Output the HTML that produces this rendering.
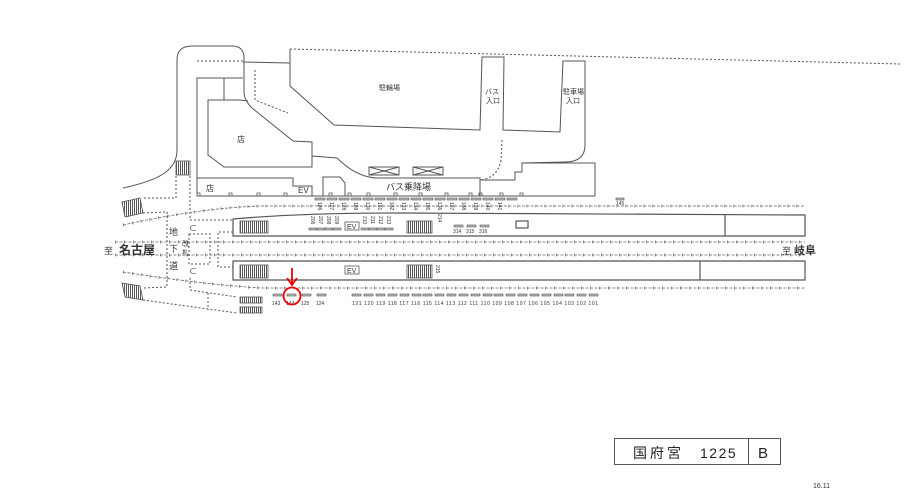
<!DOCTYPE html>
<html><head><meta charset="utf-8"><style>
html,body{margin:0;padding:0;background:#fff;}
svg{display:block;font-family:"Liberation Sans","Noto Sans CJK JP",sans-serif;}
</style></head><body>
<svg width="919" height="491" viewBox="0 0 919 491" xmlns="http://www.w3.org/2000/svg">
<defs>
<pattern id="hatch" width="2" height="4" patternUnits="userSpaceOnUse"><rect width="1" height="4" fill="#555"/></pattern>
</defs>
<g fill="none" stroke="#555" stroke-width="1">
<path d="M123,188 C160,180 177,170 177,150 L177,60 Q177,46 192,46 L232,46 Q244,46 244,58 L244,92 Q244,100 252,108 L293,141 L312,142 L312,167 L224,167 L208,155 L208,100 L240,100 L248,101"/>
<path d="M197,196 L197,78 L243,78 M224,78 L224,100 M243,62 L290,63 M290,49 L290,86 L334,125 L480,130 L482,57 L504,57 L503,130 L560,132 L563,61 L585,61 L585,145 Q585,162 565,162 L522,163 L522,172 L515,172 L515,180 L480,180 M522,163 L595,163 L595,196 L197,196"/>
<path d="M312,156 L337,158 Q355,176 375,178 L480,178 L480,196"/>
<path d="M197,178 L293,178 L293,186 L312,186 L312,196 M323,196 L323,177 L340,177 L345,183 L345,196"/>
<rect x="369" y="167" width="30" height="8"/><path d="M369,167 L399,175 M399,167 L369,175"/>
<rect x="413" y="167" width="30" height="8"/><path d="M413,167 L443,175 M443,167 L413,175"/>
</g>
<g fill="none" stroke="#555" stroke-width="1" stroke-dasharray="2,2">
<path d="M197,61 L243,61 M290,49 L900,64"/>
<path d="M255,70 L255,100 L288,113"/>
<path d="M502,140 L501,160 Q498,178 480,180"/>
<path d="M176,176 L176,198 L143,198 M190,176 L190,220 L233,220"/>
<path d="M143,213 L167,212 L167,287 L143,288"/>
<path d="M143,300 L237,313 M190,278 L190,290 L237,297 M208,293 L208,310"/>
<rect x="189" y="234" width="21" height="30"/>
<path d="M233,232 L218,232 L218,267 L233,267"/>
</g>
<g fill="none" stroke="#666" stroke-width="0.8" stroke-dasharray="3,1.5">
<path d="M123,225 Q200,208 260,206 L805,206"/>
<path d="M115,242 L805,242 M115,255 L805,255"/>
<path d="M123,272 Q200,284 260,288 L805,288"/>
</g>
<g fill="none" stroke="#666" stroke-width="3" stroke-dasharray="0.7,8.3">
<path d="M123,225 Q200,208 260,206 L805,206"/>
<path d="M115,242 L805,242 M115,255 L805,255"/>
<path d="M123,272 Q200,284 260,288 L805,288"/>
</g>
<g fill="none" stroke="#555" stroke-width="1.2">
<path d="M233,219 Q300,213 400,213 L805,215 L805,236 L233,236 Z M725,214 L725,236"/>
<path d="M233,261 L805,261 L805,280 L233,280 Z M700,261 L700,280"/>
<rect x="516" y="221" width="12" height="7"/>
</g>
<g stroke="#555" stroke-width="0.8">
<rect x="240" y="221" width="28" height="12" fill="url(#hatch)"/>
<rect x="407" y="221" width="25" height="12" fill="url(#hatch)"/>
<rect x="240" y="265" width="28" height="13" fill="url(#hatch)"/>
<rect x="407" y="265" width="25" height="13" fill="url(#hatch)"/>
<rect x="176" y="161" width="14" height="14" fill="url(#hatch)"/>
<polygon points="122,202 140,198 143,213 125,217" fill="url(#hatch)"/>
<polygon points="122,283 140,286 143,300 125,297" fill="url(#hatch)"/>
<rect x="240" y="297" width="22" height="6" fill="url(#hatch)"/>
<rect x="240" y="307" width="22" height="6" fill="url(#hatch)"/>
<rect x="345" y="222" width="14" height="8" fill="none"/>
<rect x="345" y="266" width="14" height="8" fill="none"/>
</g>
<g font-size="8" fill="#333">
<text x="347" y="229" font-size="7">EV</text><text x="347" y="273" font-size="7">EV</text>
<text x="237" y="142" font-size="8">店</text>
<text x="206" y="191">店</text>
<text x="298" y="193">EV</text>
<text x="386" y="190" font-size="9">バス乗降場</text>
<text x="379" y="90" font-size="7">駐輪場</text>
<text x="485" y="94" font-size="7">バス</text><text x="486" y="103" font-size="7">入口</text>
<text x="563" y="94" font-size="7">駐車場</text><text x="566" y="103" font-size="7">入口</text>
<text x="169" y="235" font-size="9">地</text><text x="169" y="252" font-size="9">下</text><text x="169" y="269" font-size="9">道</text>
<text x="182" y="246" font-size="7">改</text><text x="182" y="255" font-size="7">札</text>
<text x="189" y="231">⊂</text><text x="189" y="274">⊂</text>
<text x="104" y="254" font-size="9">至</text><text x="119" y="254" font-size="12" font-weight="bold">名古屋</text>
<text x="782" y="254" font-size="9">至</text><text x="794" y="254" font-size="11" font-weight="bold">岐阜</text>
</g>
<g fill="none" stroke="#555" stroke-width="0.8">
<path d="M197,196v-3h3v3 M229,196v-3h3v3 M257,196v-3h3v3 M284,196v-3h3v3 M329,196v-3h3v3 M348,196v-3h3v3 M367,196v-3h3v3 M394,196v-3h3v3 M419,196v-3h3v3 M445,196v-3h3v3 M469,196v-3h3v3 M479,196v-3h3v3 M500,196v-3h3v3 M520,196v-3h3v3"/>
</g>
<g fill="#bbb" stroke="#555" stroke-width="0.6">
<rect x="315" y="198" width="10" height="2"/><rect x="327" y="198" width="10" height="2"/><rect x="339" y="198" width="10" height="2"/><rect x="351" y="198" width="10" height="2"/><rect x="363" y="198" width="10" height="2"/><rect x="375" y="198" width="10" height="2"/><rect x="387" y="198" width="10" height="2"/><rect x="399" y="198" width="10" height="2"/><rect x="411" y="198" width="10" height="2"/><rect x="423" y="198" width="10" height="2"/><rect x="435" y="198" width="10" height="2"/><rect x="447" y="198" width="10" height="2"/><rect x="459" y="198" width="10" height="2"/><rect x="471" y="198" width="10" height="2"/><rect x="483" y="198" width="10" height="2"/><rect x="495" y="198" width="10" height="2"/><rect x="507" y="198" width="10" height="2"/>
<rect x="616" y="198" width="8" height="2"/>
<rect x="309" y="228" width="8" height="2"/><rect x="317" y="228" width="8" height="2"/><rect x="325" y="228" width="8" height="2"/><rect x="333" y="228" width="8" height="2"/>
<rect x="361" y="228" width="8" height="2"/><rect x="369" y="228" width="8" height="2"/><rect x="377" y="228" width="8" height="2"/><rect x="385" y="228" width="8" height="2"/>
<rect x="454" y="225" width="9" height="2"/><rect x="467" y="225" width="9" height="2"/><rect x="480" y="225" width="9" height="2"/>
<rect x="273" y="294" width="9" height="2"/><rect x="287" y="294" width="9" height="2"/><rect x="302" y="294" width="9" height="2"/><rect x="317" y="294" width="9" height="2"/>
</g>
<g font-size="5" fill="#333" font-family="Liberation Sans">
<g transform="rotate(90)">
<text x="202" y="-318">126</text><text x="202" y="-330">127</text><text x="202" y="-342">128</text><text x="202" y="-354">129</text><text x="202" y="-366">130</text><text x="202" y="-378">131</text><text x="202" y="-390">132</text><text x="202" y="-402">133</text><text x="202" y="-414">134</text><text x="202" y="-426">135</text><text x="202" y="-438">136</text><text x="202" y="-450">137</text><text x="202" y="-462">138</text><text x="202" y="-474">139</text><text x="202" y="-486">140</text><text x="202" y="-498">141</text>
<text x="216" y="-311">206</text><text x="216" y="-319">207</text><text x="216" y="-327">208</text><text x="216" y="-335">209</text>
<text x="216" y="-363">210</text><text x="216" y="-371">211</text><text x="216" y="-379">212</text><text x="216" y="-387">213</text>
<text x="214" y="-438">214</text><text x="265" y="-436">215</text>
</g>
<text x="616" y="205">145</text>
<text x="453" y="233">314</text><text x="466" y="233">315</text><text x="479" y="233">316</text>
<text x="272" y="305">143</text><text x="286" y="305">144</text><text x="301" y="305">125</text><text x="316" y="305">124</text>
<text x="352" y="305" textLength="246" lengthAdjust="spacing">121 120 119 118 117 116 115 114 113 112 111 110 109 108 107 106 105 104 103 102 101</text>
</g>
<g fill="#bbb" stroke="#555" stroke-width="0.6">
<rect x="352" y="294" width="9" height="2"/><rect x="364" y="294" width="9" height="2"/><rect x="376" y="294" width="9" height="2"/><rect x="388" y="294" width="9" height="2"/><rect x="400" y="294" width="9" height="2"/><rect x="412" y="294" width="9" height="2"/><rect x="423" y="294" width="9" height="2"/><rect x="435" y="294" width="9" height="2"/><rect x="447" y="294" width="9" height="2"/><rect x="459" y="294" width="9" height="2"/><rect x="471" y="294" width="9" height="2"/><rect x="483" y="294" width="9" height="2"/><rect x="494" y="294" width="9" height="2"/><rect x="506" y="294" width="9" height="2"/><rect x="518" y="294" width="9" height="2"/><rect x="530" y="294" width="9" height="2"/><rect x="542" y="294" width="9" height="2"/><rect x="554" y="294" width="9" height="2"/><rect x="565" y="294" width="9" height="2"/><rect x="577" y="294" width="9" height="2"/><rect x="589" y="294" width="9" height="2"/>
</g>
<g stroke="#e00" stroke-width="1.8" fill="none">
<circle cx="292" cy="296" r="8.5"/>
<path d="M292,268 L292,284 M287,278 L292,285 L297,278"/>
</g>
<rect x="614.5" y="438.5" width="166" height="26" fill="none" stroke="#555"/>
<line x1="748.5" y1="438" x2="748.5" y2="465" stroke="#555"/>
<text x="633" y="458" font-size="14" fill="#222" letter-spacing="3">国府宮</text>
<text x="700" y="458" font-size="14" fill="#222" letter-spacing="1.5">1225</text>
<text x="758" y="458" font-size="15" fill="#222">B</text>
<text x="813" y="488" font-size="7" fill="#333">16.11</text>
</svg>
</body></html>
